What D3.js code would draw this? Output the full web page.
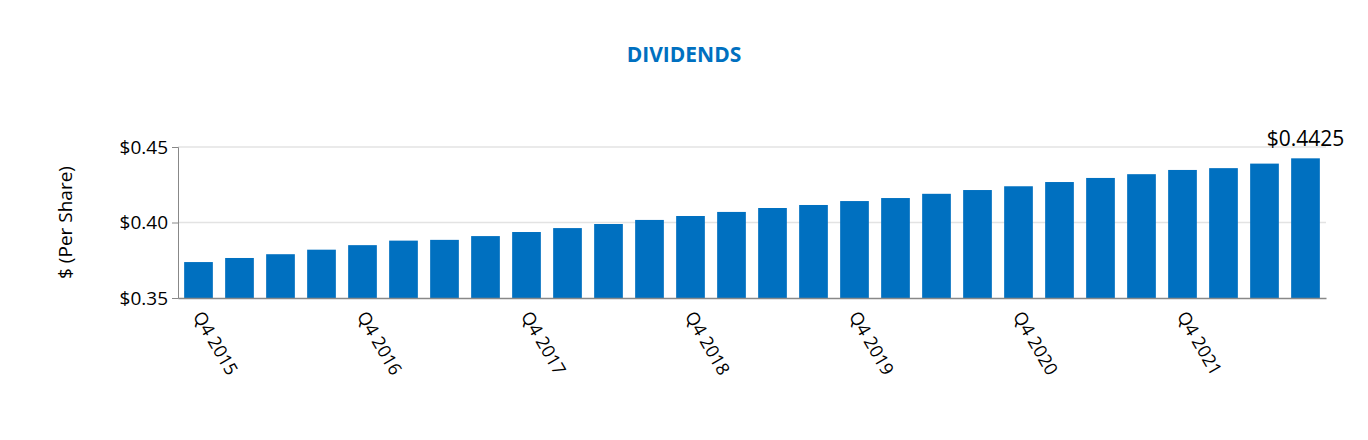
<!DOCTYPE html>
<html><head><meta charset="utf-8">
<script src="https://cdn.jsdelivr.net/npm/d3@7"></script>
<style>body{margin:0;background:#fff}</style>
</head><body>
<svg id="chart" width="1368" height="440"></svg>
<script>
const quarters = ["Q4 2015","Q1 2016","Q2 2016","Q3 2016","Q4 2016","Q1 2017","Q2 2017","Q3 2017",
  "Q4 2017","Q1 2018","Q2 2018","Q3 2018","Q4 2018","Q1 2019","Q2 2019","Q3 2019",
  "Q4 2019","Q1 2020","Q2 2020","Q3 2020","Q4 2020","Q1 2021","Q2 2021","Q3 2021",
  "Q4 2021","Q1 2022","Q2 2022","Q3 2022"];
const dividends = [0.3738,0.3765,0.379,0.382,0.385,0.388,0.3885,0.391,0.3937,0.3963,0.399,0.4017,
  0.4043,0.407,0.4096,0.4116,0.4142,0.4162,0.419,0.4215,0.424,0.4268,0.4295,0.432,
  0.4348,0.436,0.439,0.4425];
const yTicks = [0.35, 0.40, 0.45];

const svg = d3.select("#chart");
const plotLeft = 178, plotRight = 1326, plotTop = 147, plotBottom = 298;
const blue = "#0070c0";

const x = d3.scaleBand().domain(quarters).range([plotLeft, plotRight]).paddingInner(0.3).paddingOuter(0.15);
const y = d3.scaleLinear().domain([0.35, 0.45]).range([plotBottom, plotTop]);

svg.append("text").attr("x", 684).attr("y", 62).attr("text-anchor", "middle")
  .attr("font-family", "Open Sans, sans-serif").attr("font-weight", "bold")
  .attr("font-size", 21).attr("fill", blue).text("DIVIDENDS");

// gridlines
svg.append("g").selectAll("line").data(yTicks.slice(1)).join("line")
  .attr("x1", plotLeft).attr("x2", plotRight).attr("y1", d => y(d)).attr("y2", d => y(d))
  .attr("stroke", "#e3e3e3").attr("stroke-width", 1.5);

svg.append("g").selectAll("rect").data(dividends).join("rect")
  .attr("x", (d, i) => x(quarters[i])).attr("width", x.bandwidth())
  .attr("y", d => y(d)).attr("height", d => plotBottom - y(d)).attr("fill", blue);

// y axis
const ya = svg.append("g").attr("transform", `translate(${plotLeft},0)`)
  .call(d3.axisLeft(y).tickValues(yTicks).tickSize(6).tickFormat(d => "$" + d.toFixed(2)));
ya.selectAll("text").attr("font-family", "Open Sans, sans-serif").attr("font-size", 19).attr("fill", "#000").attr("x", -10);
ya.selectAll("path,line").attr("stroke", "#888");

// x axis
const xa = svg.append("g").attr("transform", `translate(0,${plotBottom})`)
  .call(d3.axisBottom(x).tickValues(quarters.filter((q, i) => i % 4 === 0)).tickSize(0));
xa.select("path").attr("stroke", "#888").attr("stroke-width", 1.5);
xa.selectAll("text").attr("font-family", "Open Sans, sans-serif").attr("font-size", 18).attr("fill", "#000")
  .attr("text-anchor", "start").attr("dy", 0).attr("y", 0)
  .attr("transform", "translate(-6,18) rotate(60)");

svg.append("text").attr("transform", `translate(72,${(plotTop + plotBottom) / 2}) rotate(-90)`)
  .attr("text-anchor", "middle").attr("font-family", "Open Sans, sans-serif").attr("font-size", 19)
  .text("$ (Per Share)");

const last = dividends.length - 1;
svg.append("text").attr("x", x(quarters[last]) + x.bandwidth() / 2).attr("y", y(dividends[last]) - 12)
  .attr("text-anchor", "middle").attr("font-family", "Open Sans, sans-serif").attr("font-size", 21)
  .text("$" + dividends[last]);
</script>
</body></html>
